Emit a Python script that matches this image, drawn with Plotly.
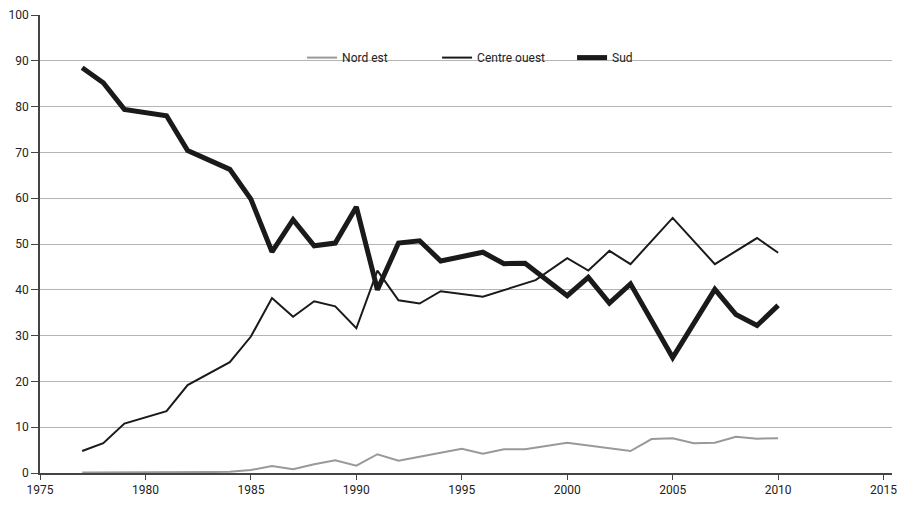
import plotly.graph_objects as go

nord_years = [1977, 1978, 1979, 1980, 1981, 1982, 1983, 1984, 1985, 1986, 1987, 1988, 1989, 1990,
              1991, 1992, 1993, 1994, 1995, 1996, 1997, 1998, 2000, 2003, 2004, 2005, 2006, 2007,
              2008, 2009, 2010]
nord_vals = [0.1, 0.1, 0.1, 0.15, 0.2, 0.2, 0.2, 0.3, 0.65, 1.5, 0.8, 1.9, 2.8, 1.6,
             4.1, 2.7, 3.5, 4.4, 5.3, 4.2, 5.2, 5.2, 6.6, 4.8, 7.4, 7.6, 6.5, 6.6,
             7.9, 7.5, 7.6]

centre_years = [1977, 1978, 1979, 1981, 1982, 1984, 1985, 1986, 1987, 1988, 1989, 1990, 1991,
                1992, 1993, 1994, 1996, 1998.5, 2000, 2001, 2002, 2003, 2005, 2007, 2009, 2010]
centre_vals = [4.8, 6.5, 10.8, 13.5, 19.2, 24.2, 29.8, 38.2, 34.1, 37.5, 36.4, 31.6, 44.2,
               37.7, 37.0, 39.7, 38.5, 42.1, 46.9, 44.2, 48.5, 45.6, 55.7, 45.6, 51.3, 48.1]

sud_years = [1977, 1978, 1979, 1981, 1982, 1984, 1985, 1986, 1987, 1988, 1989, 1990, 1991,
             1992, 1993, 1994, 1996, 1997, 1998, 2000, 2001, 2002, 2003, 2005, 2007, 2008,
             2009, 2010]
sud_vals = [88.5, 85.2, 79.4, 78.0, 70.4, 66.3, 59.8, 48.3, 55.3, 49.6, 50.2, 58.1, 40.0,
            50.2, 50.7, 46.3, 48.2, 45.7, 45.8, 38.7, 42.7, 37.1, 41.3, 25.2, 40.1, 34.6,
            32.2, 36.6]

x_ticks = [1975, 1980, 1985, 1990, 1995, 2000, 2005, 2010, 2015]
y_ticks = [0, 10, 20, 30, 40, 50, 60, 70, 80, 90, 100]

FONT = "Roboto, sans-serif"

fig = go.Figure()
fig.add_trace(go.Scatter(x=nord_years, y=nord_vals, mode="lines", name="Nord est",
                         line=dict(color="#999999", width=2)))
fig.add_trace(go.Scatter(x=centre_years, y=centre_vals, mode="lines", name="Centre ouest",
                         line=dict(color="#1a1a1a", width=2)))
fig.add_trace(go.Scatter(x=sud_years, y=sud_vals, mode="lines", name="Sud",
                         line=dict(color="#1a1a1a", width=5)))

fig.update_layout(
    width=901, height=506,
    margin=dict(l=40, r=9, t=15, b=33),
    paper_bgcolor="white", plot_bgcolor="white",
    font=dict(family=FONT, size=12, color="#222222"),
    showlegend=True,
    legend=dict(orientation="h", x=0.3076, y=0.907, xanchor="left", yanchor="middle",
                bgcolor="rgba(0,0,0,0)", font=dict(size=12),
                entrywidth=90, entrywidthmode="pixels"),
    xaxis=dict(range=[1975, 2015.4], tickvals=x_ticks, ticks="outside", ticklen=5,
               tickcolor="#444444", showline=True, linecolor="#444444", linewidth=1.5,
               showgrid=False, zeroline=False, tickfont=dict(size=12),
               automargin=False, ticklabeloverflow="allow"),
    yaxis=dict(range=[0, 100], tickvals=y_ticks, ticks="outside", ticklen=7,
               tickcolor="#444444", showline=True, linecolor="#444444", linewidth=1.5,
               showgrid=True, gridcolor="#b4b4b4", gridwidth=1, zeroline=False,
               tickfont=dict(size=12), automargin=False, ticklabeloverflow="allow"),
)

fig.write_html("out.html", config={"displayModeBar": False},
               post_script="document.body.style.margin='0';")
